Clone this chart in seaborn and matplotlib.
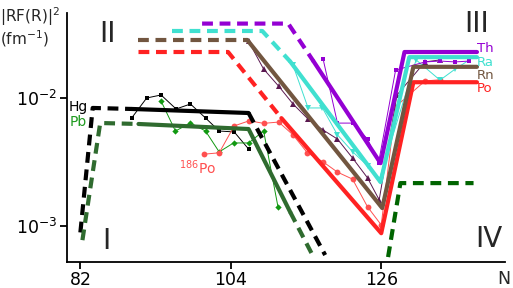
import numpy as np
import matplotlib
matplotlib.use("Agg")
import matplotlib.pyplot as plt
import seaborn as sns

# ---------------- data (N, |RF(R)|^2 in fm^-1) ----------------
# Theory: dashed / solid pieces
hg_dash_l_N = [82.0, 83.8, 89.5];   hg_dash_l_y = [8.91e-4, 8.32e-3, 8.17e-3]
hg_sol_N = [89.5, 106.6];           hg_sol_y = [8.17e-3, 7.60e-3]
hg_dash_r_N = [106.6, 117.8];       hg_dash_r_y = [7.60e-3, 5.94e-4]

pb_dash_l_N = [82.3, 84.9, 90.5];   pb_dash_l_y = [7.76e-4, 6.35e-3, 6.24e-3]
pb_sol_N = [90.5, 106.6, 112.7];    pb_sol_y = [6.24e-3, 5.70e-3, 1.28e-3]
pb_dash_r_N = [112.7, 116.1];       pb_dash_r_y = [1.28e-3, 5.73e-4]

iv_dash_N = [127.0, 128.8, 139.5];  iv_dash_y = [5.73e-4, 2.16e-3, 2.16e-3]

po_dash_N = [90.5, 103.6, 111.4];   po_dash_y = [2.27e-2, 2.27e-2, 6.93e-3]
po_sol_N = [111.4, 126.0, 130.7, 140.0]; po_sol_y = [6.93e-3, 8.79e-4, 1.32e-2, 1.32e-2]

rn_dash_N = [90.5, 106.4];          rn_dash_y = [2.82e-2, 2.82e-2]
rn_sol_N = [106.4, 126.15, 130.7, 140.0]; rn_sol_y = [2.82e-2, 1.38e-3, 1.74e-2, 1.74e-2]

ra_dash_N = [95.4, 108.6, 112.7];   ra_dash_y = [3.31e-2, 3.31e-2, 1.91e-2]
ra_sol_N = [112.7, 125.9, 130.1, 140.0]; ra_sol_y = [1.91e-2, 2.20e-3, 2.07e-2, 2.07e-2]

th_dash_N = [99.8, 112.4, 116.1];   th_dash_y = [3.78e-2, 3.78e-2, 1.92e-2]
th_sol_N = [116.1, 125.9, 129.4, 140.0]; th_sol_y = [1.92e-2, 3.09e-3, 2.27e-2, 2.27e-2]

# Experimental points
hg_exp_N = [89.5, 91.7, 93.8, 96.0, 98.1, 100.3, 102.3, 104.5, 106.6]
hg_exp_y = [6.95e-3, 9.95e-3, 1.05e-2, 8.17e-3, 8.93e-3, 6.95e-3, 5.50e-3, 5.41e-3, 3.98e-3]

pb_exp_N = [93.8, 95.9, 98.1, 100.3, 102.3, 104.4, 106.6, 108.8, 110.9]
pb_exp_y = [9.42e-3, 5.50e-3, 6.35e-3, 5.50e-3, 3.78e-3, 4.44e-3, 4.44e-3, 5.50e-3, 1.41e-3]

po_exp_N = [100.1, 102.3, 104.5, 106.7, 108.8, 111.0, 113.1, 115.2, 117.5, 119.6,
            121.8, 124.0, 126.0, 128.1, 132.4, 134.6]
po_exp_y = [3.63e-3, 3.72e-3, 6.03e-3, 6.61e-3, 6.31e-3, 6.46e-3, 5.13e-3, 3.72e-3,
            3.16e-3, 2.63e-3, 2.32e-3, 1.41e-3, 1.02e-3, 8.51e-3, 1.35e-2, 1.38e-2]

rn_exp_N = [106.6, 108.8, 111.0, 113.1, 115.3, 117.5, 119.6, 121.8, 124.0, 125.7,
            128.3, 132.4, 134.6]
rn_exp_y = [2.75e-2, 1.67e-2, 1.23e-2, 8.93e-3, 6.82e-3, 5.60e-3, 4.76e-3, 3.39e-3,
            2.37e-3, 1.60e-3, 1.05e-2, 1.90e-2, 1.97e-2]

ra_exp_N = [113.1, 115.3, 117.4, 119.6, 121.8, 124.0, 125.7, 131.1, 134.6, 136.8, 138.9]
ra_exp_y = [1.79e-2, 8.32e-3, 8.32e-3, 5.13e-3, 3.80e-3, 2.95e-3, 2.29e-3, 1.97e-2,
            1.37e-2, 1.67e-2, 1.97e-2]

th_exp_N = [117.5, 119.6, 121.8, 124.0, 125.6, 128.1, 132.4, 134.6, 136.8, 138.9]
th_exp_y = [2.00e-2, 6.34e-3, 6.34e-3, 4.76e-3, 3.10e-3, 1.64e-2, 1.90e-2, 1.93e-2,
            1.90e-2, 1.93e-2]

x_ticks = [82, 104, 126]
y_ticks = [1e-2, 1e-3]
y_ticklabels = [r"$10^{-2}$", r"$10^{-3}$"]

# ---------------- style ----------------
sns.set_theme(style="white")
plt.rcParams["font.family"] = ["DejaVu Sans"]

C_BLACK = "black"
C_PB = "#2f6b2f"
C_PBTXT = "#1f9a1f"
C_IV = "#006400"
C_RED = "#ff2222"
C_REDL = "#ff5050"
C_BROWN = "#725640"
C_CYAN = "#40e0d0"
C_PURPLE = "#9400d3"
C_RN = "#5a1850"

W, H = 513, 288
fig = plt.figure(figsize=(W / 100, H / 100), dpi=100)
ax = fig.add_axes([66.7 / W, 1 - 261.7 / H, (505 - 66.7) / W, (261.7 - 13) / H])
ax.set_yscale("log")
ax.set_xlim(80, 144.1)
ax.set_ylim(10 ** -3.278, 10 ** -1.34)

DASH = (0, (2.6, 1.6))
LW = 3.0


def line(xs, ys, color, lw=LW, ls="-", **kw):
    sns.lineplot(x=xs, y=ys, ax=ax, color=color, lw=lw, linestyle=ls,
                 sort=False, estimator=None, legend=False, **kw)


# thin experimental lines
def exp(xs, ys, color, marker, ms=3.5):
    sns.lineplot(x=xs, y=ys, ax=ax, color=color, lw=0.7, marker=marker,
                 markersize=ms, markeredgewidth=0, sort=False, estimator=None,
                 legend=False)


exp(hg_exp_N, hg_exp_y, "black", "s")
exp(pb_exp_N, pb_exp_y, "#119911", "D", 3.2)
exp(po_exp_N, po_exp_y, C_REDL, "o", 4.2)
exp(rn_exp_N, rn_exp_y, C_RN, "^", 4.2)
exp(ra_exp_N, ra_exp_y, C_CYAN, "v", 4.2)
exp(th_exp_N, th_exp_y, C_PURPLE, "s", 3.5)

# theory lines
line(hg_dash_l_N, hg_dash_l_y, C_BLACK, ls=DASH)
line(hg_sol_N, hg_sol_y, C_BLACK)
line(hg_dash_r_N, hg_dash_r_y, C_BLACK, ls=DASH)

line(pb_dash_l_N, pb_dash_l_y, C_PB, ls=DASH)
line(pb_sol_N, pb_sol_y, C_PB)
line(pb_dash_r_N, pb_dash_r_y, C_PB, ls=DASH)

line(iv_dash_N, iv_dash_y, C_IV, ls=DASH)

line(po_dash_N, po_dash_y, C_RED, ls=DASH)
line(po_sol_N, po_sol_y, C_RED)

line(rn_dash_N, rn_dash_y, C_BROWN, ls=DASH)
line(rn_sol_N, rn_sol_y, C_BROWN)

line(ra_dash_N, ra_dash_y, C_CYAN, ls=DASH)
line(ra_sol_N, ra_sol_y, C_CYAN)

line(th_dash_N, th_dash_y, C_PURPLE, ls=DASH)
line(th_sol_N, th_sol_y, C_PURPLE)

# ---------------- axes ----------------
for s in ["top", "right"]:
    ax.spines[s].set_visible(False)
for s in ["left", "bottom"]:
    ax.spines[s].set_color("black")
    ax.spines[s].set_linewidth(1.3)
ax.plot(1, 0, ">k", transform=ax.get_yaxis_transform(), clip_on=False, ms=6)
ax.plot(0, 1, "^k", transform=ax.get_xaxis_transform(), clip_on=False, ms=6)

ax.set_xticks(x_ticks)
ax.set_xticklabels([str(t) for t in x_ticks])
ax.set_yticks(y_ticks)
ax.set_yticklabels(y_ticklabels)
ax.minorticks_off()
ax.tick_params(axis="both", direction="out", length=5, width=1.3, colors="black",
               labelsize=12.5, pad=2, left=True, bottom=True)
ax.set_xlabel("")
ax.set_ylabel("")


def ftext(x, y, s, **kw):
    fig.text(x / W, 1 - y / H, s, ha=kw.pop("ha", "center"), va=kw.pop("va", "center"), **kw)


ftext(0, 17, r"|RF(R)|$^2$", ha="left", fontsize=11)
ftext(0, 39, r"(fm$^{-1}$)", ha="left", fontsize=11)
ftext(107, 34, "II", fontsize=20)
ftext(477, 24, "III", fontsize=20)
ftext(106, 241, "I", fontsize=20)
ftext(489, 239, "IV", fontsize=20)
ftext(504, 279, "N", fontsize=12.5)

ftext(69, 107, "Hg", ha="left", fontsize=10, color="black")
ftext(70, 122, "Pb", ha="left", fontsize=10, color=C_PBTXT)
ftext(477, 49, "Th", ha="left", fontsize=9.5, color=C_PURPLE)
ftext(477, 62, "Ra", ha="left", fontsize=9.5, color=C_CYAN)
ftext(477, 75, "Rn", ha="left", fontsize=9.5, color=C_BROWN)
ftext(477, 88, "Po", ha="left", fontsize=9.5, color=C_RED)
ftext(198, 168, r"$^{186}$Po", fontsize=10, color=C_REDL)

fig.savefig("out.png", dpi=100)
